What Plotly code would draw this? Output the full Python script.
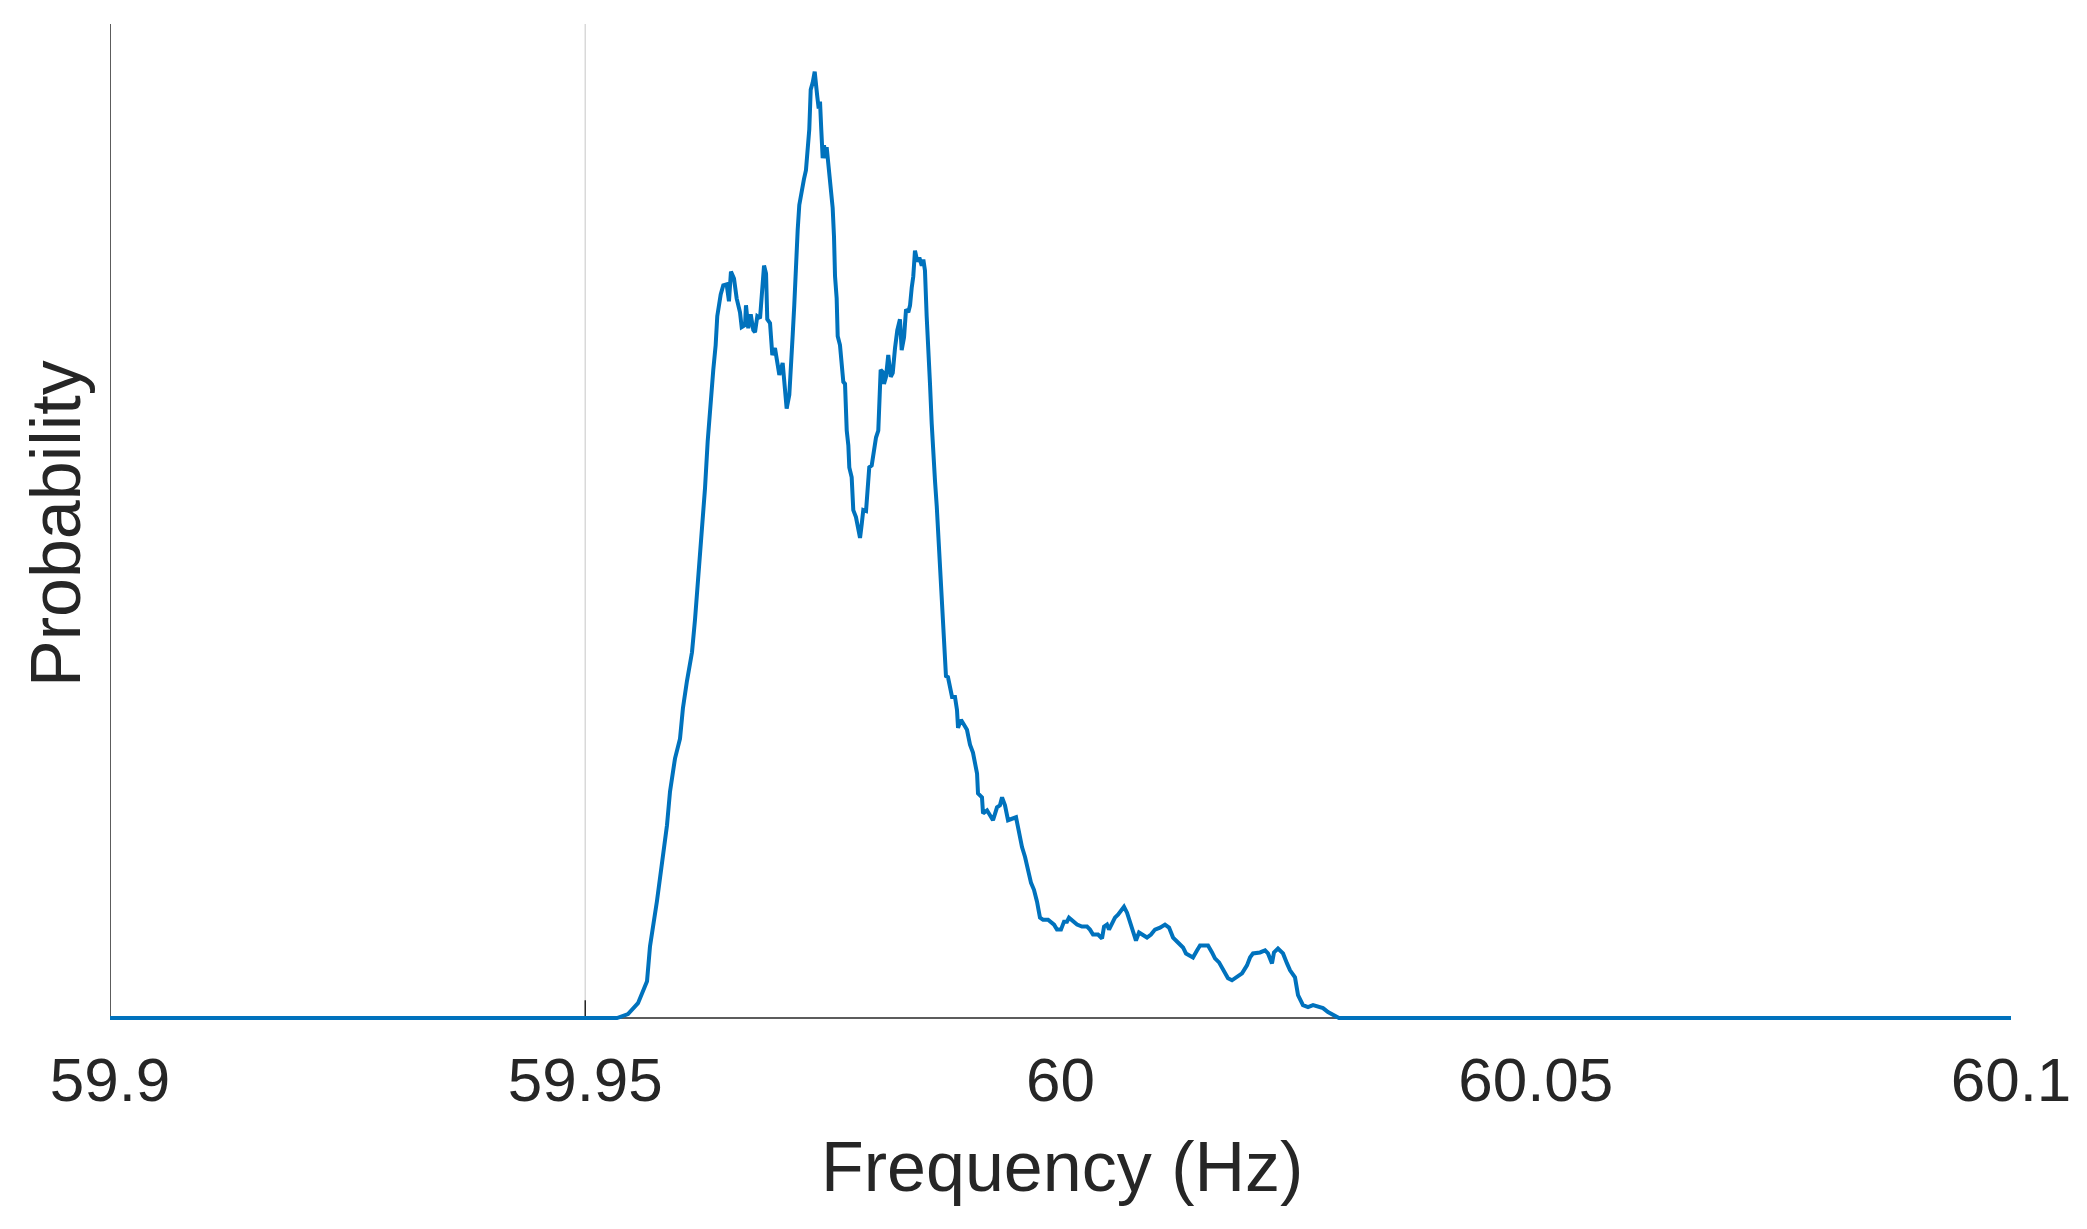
import plotly.graph_objects as go

frequency_hz = [
    59.90000, 59.95334, 59.95450, 59.95555, 59.95650, 59.95681, 59.95755, 59.95807,
    59.95860, 59.95892, 59.95944, 59.95997, 59.96028, 59.96070, 59.96123, 59.96155,
    59.96186, 59.96207, 59.96239, 59.96260, 59.96288, 59.96323, 59.96347, 59.96372,
    59.96389, 59.96425, 59.96452, 59.96488, 59.96512, 59.96533, 59.96565, 59.96593,
    59.96628, 59.96646, 59.96681, 59.96691, 59.96715, 59.96741, 59.96768, 59.96786,
    59.96810, 59.96839, 59.96856, 59.96881, 59.96902, 59.96915, 59.96944, 59.96968,
    59.96996, 59.97014, 59.97042, 59.97077, 59.97102, 59.97119, 59.97147, 59.97162,
    59.97183, 59.97199, 59.97214, 59.97235, 59.97252, 59.97277, 59.97301, 59.97322,
    59.97340, 59.97357, 59.97372, 59.97393, 59.97414, 59.97428, 59.97441, 59.97456,
    59.97470, 59.97483, 59.97498, 59.97512, 59.97530, 59.97540, 59.97561, 59.97582,
    59.97603, 59.97617, 59.97628, 59.97645, 59.97656, 59.97680, 59.97698, 59.97715,
    59.97733, 59.97751, 59.97768, 59.97778, 59.97803, 59.97820, 59.97848, 59.97866,
    59.97891, 59.97909, 59.97925, 59.97954, 59.97972, 59.97988, 59.98014, 59.98038,
    59.98059, 59.98083, 59.98101, 59.98108, 59.98129, 59.98143, 59.98164, 59.98188,
    59.98214, 59.98235, 59.98259, 59.98283, 59.98311, 59.98329, 59.98354, 59.98375,
    59.98399, 59.98417, 59.98435, 59.98451, 59.98469, 59.98494, 59.98515, 59.98540,
    59.98557, 59.98574, 59.98592, 59.98609, 59.98627, 59.98645, 59.98662, 59.98680,
    59.98698, 59.98714, 59.98732, 59.98764, 59.98785, 59.98795, 59.98816, 59.98827,
    59.98859, 59.98890, 59.98911, 59.98922, 59.98953, 59.98985, 59.99016, 59.99048,
    59.99079, 59.99122, 59.99132, 59.99174, 59.99185, 59.99227, 59.99258, 59.99290,
    59.99332, 59.99363, 59.99385, 59.99416, 59.99448, 59.99500, 59.99532, 59.99553,
    59.99595, 59.99627, 59.99658, 59.99690, 59.99721, 59.99753, 59.99784, 59.99816,
    59.99869, 59.99911, 59.99932, 59.99963, 60.00005, 60.00037, 60.00068, 60.00089,
    60.00132, 60.00174, 60.00226, 60.00279, 60.00310, 60.00342, 60.00395, 60.00437,
    60.00458, 60.00489, 60.00510, 60.00542, 60.00573, 60.00605, 60.00637, 60.00668,
    60.00700, 60.00731, 60.00763, 60.00794, 60.00826, 60.00868, 60.00910, 60.00952,
    60.00994, 60.01047, 60.01099, 60.01142, 60.01184, 60.01236, 60.01289, 60.01320,
    60.01362, 60.01394, 60.01436, 60.01468, 60.01520, 60.01552, 60.01594, 60.01625,
    60.01668, 60.01699, 60.01731, 60.01762, 60.01804, 60.01857, 60.01910, 60.01962,
    60.01994, 60.02025, 60.02067, 60.02099, 60.02152, 60.02183, 60.02225, 60.02246,
    60.02288, 60.02341, 60.02383, 60.02415, 60.02467, 60.02499, 60.02551, 60.02604,
    60.02657, 60.02709, 60.02762, 60.02814, 60.02867, 60.02930, 60.10000,
]

probability = [
    0.000, 0.000, 0.004, 0.015, 0.037, 0.072, 0.118, 0.159,
    0.194, 0.228, 0.261, 0.281, 0.312, 0.339, 0.368, 0.401,
    0.438, 0.473, 0.507, 0.533, 0.580, 0.627, 0.652, 0.677,
    0.706, 0.728, 0.737, 0.738, 0.721, 0.751, 0.744, 0.724,
    0.710, 0.695, 0.697, 0.717, 0.694, 0.708, 0.692, 0.690,
    0.706, 0.704, 0.731, 0.757, 0.749, 0.703, 0.699, 0.667,
    0.674, 0.661, 0.647, 0.659, 0.631, 0.613, 0.627, 0.663,
    0.688, 0.717, 0.754, 0.793, 0.818, 0.833, 0.844, 0.853,
    0.872, 0.894, 0.934, 0.941, 0.952, 0.932, 0.927, 0.915,
    0.922, 0.894, 0.865, 0.878, 0.865, 0.876, 0.854, 0.833,
    0.815, 0.786, 0.746, 0.724, 0.686, 0.677, 0.659, 0.640,
    0.638, 0.591, 0.576, 0.554, 0.544, 0.511, 0.504, 0.493,
    0.483, 0.497, 0.511, 0.510, 0.533, 0.554, 0.556, 0.572,
    0.584, 0.591, 0.634, 0.652, 0.650, 0.638, 0.645, 0.667,
    0.645, 0.649, 0.674, 0.692, 0.703, 0.672, 0.685, 0.713,
    0.710, 0.717, 0.735, 0.746, 0.772, 0.761, 0.765, 0.757,
    0.763, 0.752, 0.706, 0.659, 0.638, 0.598, 0.562, 0.540,
    0.515, 0.486, 0.469, 0.403, 0.364, 0.344, 0.343, 0.337,
    0.323, 0.323, 0.310, 0.292, 0.300, 0.295, 0.290, 0.275,
    0.267, 0.246, 0.226, 0.222, 0.206, 0.209, 0.204, 0.199,
    0.212, 0.214, 0.222, 0.214, 0.199, 0.201, 0.202, 0.192,
    0.172, 0.162, 0.149, 0.136, 0.129, 0.117, 0.101, 0.099,
    0.099, 0.096, 0.094, 0.089, 0.089, 0.097, 0.097, 0.101,
    0.097, 0.094, 0.092, 0.092, 0.089, 0.084, 0.084, 0.080,
    0.092, 0.094, 0.089, 0.096, 0.101, 0.104, 0.109, 0.112,
    0.106, 0.096, 0.089, 0.078, 0.086, 0.084, 0.081, 0.084,
    0.089, 0.091, 0.094, 0.091, 0.081, 0.076, 0.071, 0.065,
    0.063, 0.061, 0.068, 0.073, 0.073, 0.073, 0.066, 0.060,
    0.056, 0.051, 0.046, 0.040, 0.038, 0.041, 0.045, 0.053,
    0.061, 0.065, 0.065, 0.066, 0.068, 0.065, 0.055, 0.066,
    0.070, 0.065, 0.055, 0.048, 0.041, 0.023, 0.013, 0.011,
    0.013, 0.011, 0.010, 0.006, 0.003, 0.000, 0.000,
]

tick_values = [59.9, 59.95, 60.0, 60.05, 60.1]
tick_labels = ["59.9", "59.95", "60", "60.05", "60.1"]
marker_freq = 59.95

FONT = "Liberation Sans, Arial, Helvetica, sans-serif"
TEXT = "#262626"
BLUE = "#0072BD"

fig = go.Figure()
fig.add_trace(go.Scatter(
    x=frequency_hz, y=probability, mode="lines",
    line=dict(color=BLUE, width=4), hoverinfo="skip", showlegend=False,
))

shapes = [
    dict(type="line", xref="x", yref="y", x0=marker_freq, x1=marker_freq, y0=0, y1=1,
         line=dict(color="#d9d9d9", width=1.5), layer="below"),
    dict(type="line", xref="x", yref="y", x0=tick_values[0], x1=tick_values[-1], y0=0, y1=0,
         line=dict(color=TEXT, width=1.5), layer="below"),
    dict(type="line", xref="x", yref="y", x0=tick_values[0], x1=tick_values[0], y0=0, y1=1,
         line=dict(color=TEXT, width=1.5), layer="below"),
    dict(type="line", xref="x", yref="y", x0=marker_freq, x1=marker_freq, y0=0, y1=0.018,
         line=dict(color=TEXT, width=1.5), layer="below"),
]

fig.update_layout(
    width=2087, height=1229,
    margin=dict(l=110, r=76, t=24, b=201),
    paper_bgcolor="white", plot_bgcolor="white",
    font=dict(family=FONT, color=TEXT),
    shapes=shapes,
    xaxis=dict(
        range=[tick_values[0], tick_values[-1]],
        tickvals=tick_values, ticktext=tick_labels,
        showline=False, showgrid=False, zeroline=False, ticks="",
        tickfont=dict(size=62, color=TEXT, family=FONT),
        ticklabelstandoff=10,
    ),
    yaxis=dict(
        range=[-0.01, 1.0], showline=False, showgrid=False, zeroline=False,
        showticklabels=False, ticks="",
    ),
    annotations=[
        dict(text="Frequency (Hz)", xref="paper", yref="paper", x=0.5008, y=-0.138,
             xanchor="center", yanchor="middle", showarrow=False,
             font=dict(size=70, color=TEXT, family=FONT)),
        dict(text="Probability", xref="paper", yref="paper", x=-0.0284, y=0.502,
             xanchor="center", yanchor="middle", showarrow=False, textangle=-90,
             font=dict(size=70, color=TEXT, family=FONT)),
    ],
)

fig.write_html("out.html", config={"displayModeBar": False},
               post_script="document.body.style.margin='0';")
